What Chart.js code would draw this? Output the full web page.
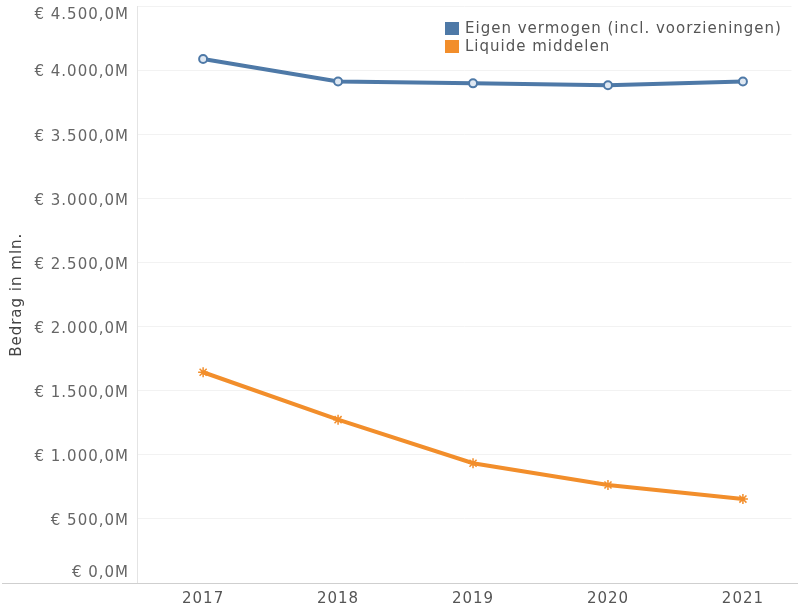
<!DOCTYPE html>
<html>
<head>
<meta charset="utf-8">
<script src="https://cdn.jsdelivr.net/npm/chart.js@4/dist/chart.umd.min.js"></script>
<style>
  html, body { margin: 0; padding: 0; background: #fff; }
</style>
</head>
<body>
<canvas id="chart" width="798" height="606"></canvas>
<script>
const years = [2017, 2018, 2019, 2020, 2021];
const eigenVermogen = [4090, 3915, 3900, 3885, 3915];
const liquideMiddelen = [1645, 1275, 935, 765, 655];
const seriesNames = ["Eigen vermogen (incl. voorzieningen)", "Liquide middelen"];
const seriesColors = ["#4e79a7", "#f28e2b"];
const yTicks = [0, 500, 1000, 1500, 2000, 2500, 3000, 3500, 4000, 4500];

const FONT = "'DejaVu Sans', Verdana, sans-serif";
const SPACING = "1px";

function euro(v) {
    let s = Math.round(v).toString().replace(/\B(?=(\d{3})+(?!\d))/g, ".");
    return "€ " + s + ",0M";
}

// the reference text is a bit spaced out, canvas letterSpacing does that
const spacing = {
    id: "spacing",
    beforeUpdate(chart) { chart.ctx.letterSpacing = SPACING; },
    beforeDraw(chart) { chart.ctx.letterSpacing = SPACING; }
};

// legend inside the plot at the top right, plus the end tick labels and the long bottom rule
const extras = {
    id: "extras",
    afterDraw(chart) {
        let ctx = chart.ctx;
        let y = chart.scales.y;
        ctx.save();
        ctx.letterSpacing = SPACING;
        ctx.font = "15px " + FONT;
        ctx.textBaseline = "middle";
        seriesNames.forEach((name, i) => {
            let ly = 29 + i * 18;
            ctx.fillStyle = seriesColors[i];
            ctx.fillRect(445, ly - 7, 14, 13);
            ctx.fillStyle = "#555";
            ctx.textAlign = "left";
            ctx.fillText(name, 465, ly);
        });

        // first and last y labels sit inside the canvas like in the original
        ctx.fillStyle = "#666";
        ctx.textAlign = "right";
        ctx.fillText(euro(yTicks[yTicks.length - 1]), 129, 15);
        ctx.fillText(euro(yTicks[0]), 129, y.getPixelForValue(yTicks[0]) - 10);

        ctx.strokeStyle = "#cfcfcf";
        ctx.lineWidth = 1;
        ctx.beginPath();
        ctx.moveTo(2, chart.chartArea.bottom + 0.5);
        ctx.lineTo(798, chart.chartArea.bottom + 0.5);
        ctx.stroke();
        ctx.restore();
    }
};

new Chart(document.getElementById("chart"), {
    type: "line",
    data: {
        datasets: [{
            label: seriesNames[0],
            data: years.map((yr, i) => ({x: yr, y: eigenVermogen[i]})),
            borderColor: seriesColors[0],
            backgroundColor: "#dfe8f2",
            borderWidth: 4,
            pointRadius: 4,
            pointBorderWidth: 2,
            pointStyle: "circle"
        }, {
            label: seriesNames[1],
            data: years.map((yr, i) => ({x: yr, y: liquideMiddelen[i]})),
            borderColor: seriesColors[1],
            backgroundColor: seriesColors[1],
            borderWidth: 4,
            pointRadius: 5,
            pointBorderWidth: 1.5,
            pointStyle: "star"
        }]
    },
    options: {
        responsive: false,
        animation: false,
        layout: {padding: {left: 4, top: 6, right: 0, bottom: 0}},
        plugins: {
            legend: {display: false},
            tooltip: {enabled: false}
        },
        scales: {
            x: {
                type: "linear",
                min: 2016.51,
                max: 2021.36,
                afterBuildTicks: scale => { scale.ticks = years.map(v => ({value: v})); },
                afterFit: scale => { scale.height = 23; },
                grid: {display: false, drawTicks: false},
                border: {display: false},
                ticks: {
                    color: "#555",
                    padding: 7,
                    font: {family: FONT, size: 15},
                    callback: v => String(v)
                }
            },
            y: {
                min: 0,
                max: 4500,
                afterBuildTicks: scale => { scale.ticks = yTicks.map(v => ({value: v})); },
                afterFit: scale => {
                    scale.width = 133;
                    scale.paddingTop = 0;
                    scale.paddingBottom = 0;
                },
                grid: {color: "#f2f2f2", drawTicks: false},
                border: {color: "#e4e4e4"},
                title: {
                    display: true,
                    text: "Bedrag in mln.",
                    color: "#444",
                    padding: {top: 4, bottom: 4},
                    font: {family: FONT, size: 15}
                },
                ticks: {
                    color: "#666",
                    padding: 8,
                    labelOffset: 2,
                    font: {family: FONT, size: 15},
                    callback: v => (v === yTicks[0] || v === yTicks[yTicks.length - 1]) ? "" : euro(v)
                }
            }
        }
    },
    plugins: [spacing, extras]
});
</script>
</body>
</html>
